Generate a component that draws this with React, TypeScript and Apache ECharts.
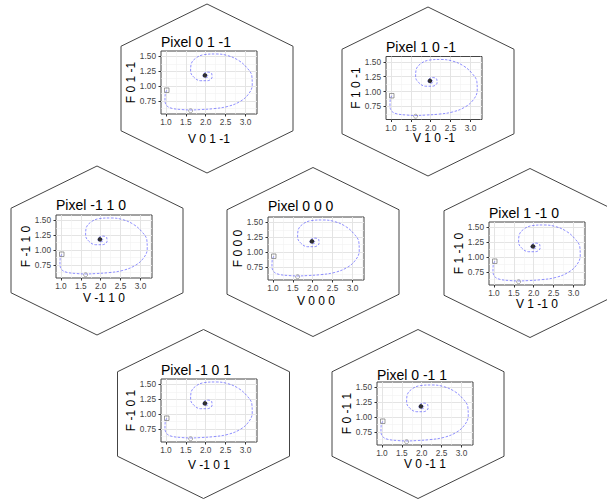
import { useEffect, useRef } from "react";
import * as echarts from "echarts";

// ---- data ----
const pixelLabels = ["0 1 -1", "1 0 -1", "-1 1 0", "0 0 0", "1 -1 0", "-1 0 1", "0 -1 1"];

const trajV = [1.02, 0.98, 0.975, 1.02, 1.15, 1.4, 1.62, 1.88, 2.2, 2.54, 2.85, 3.07, 3.17, 3.16, 3.04, 2.83, 2.54, 2.25, 1.97, 1.75, 1.63, 1.62, 1.7, 1.87, 2.04, 2.16, 2.15, 2.06, 1.96, 1.93, 1.99, 2.06, 2.03, 1.99, 1.98];
const trajF = [0.93, 0.86, 0.76, 0.67, 0.625, 0.605, 0.598, 0.605, 0.62, 0.655, 0.735, 0.86, 1.02, 1.17, 1.305, 1.43, 1.515, 1.54, 1.53, 1.47, 1.36, 1.25, 1.15, 1.09, 1.09, 1.15, 1.21, 1.235, 1.215, 1.17, 1.14, 1.16, 1.19, 1.185, 1.18];

const startPoint = [1.02, 0.93];
const turnPoint = [1.62, 0.585];
const equilibrium = [1.98, 1.18];

const xTicks = [1.0, 1.5, 2.0, 2.5, 3.0];
const xMinorTicks = [1.25, 1.75, 2.25, 2.75, 3.25];
const yTicks = [0.75, 1.0, 1.25, 1.5];
const yMinorTicks = [0.625, 0.875, 1.125, 1.375];

const xRange = [0.875, 3.29];
const yRange = [0.53, 1.59];

// ---- layout (pixels) ----
const layouts = [
  { hx: 207, hy: 88.5, left: 161, top: 51, titleY: 35, nameGap: 19 },
  { hx: 428, hy: 91.5, left: 386, top: 56.5, titleY: 40.3, nameGap: 12.5 },
  { hx: 97, hy: 250.5, left: 56, top: 215, titleY: 198, nameGap: 13.5 },
  { hx: 313, hy: 252, left: 268, top: 217, titleY: 199, nameGap: 14.5 },
  { hx: 530, hy: 253, left: 489, top: 222, titleY: 206.3, nameGap: 13 },
  { hx: 203.5, hy: 414, left: 161, top: 379, titleY: 363, nameGap: 17.3 },
  { hx: 418, hy: 414, left: 377, top: 382, titleY: 368, nameGap: 12.7 },
];
const PW = 96;
const PH = 63;
const HEX_W = 86;
const HEX_R = 84.5;

const FONT = '"Liberation Sans", Arial, sans-serif';

export default function App() {
  const ref = useRef<HTMLDivElement>(null);

  useEffect(() => {
    if (!ref.current) return;
    const chart = echarts.init(ref.current, undefined, { renderer: "svg" });

    const grids: any[] = [];
    const xAxes: any[] = [];
    const yAxes: any[] = [];
    const series: any[] = [];
    const graphics: any[] = [];

    const trajData = trajV.map((v, i) => [v, trajF[i]]);

    layouts.forEach((L, i) => {
      const label = pixelLabels[i];
      grids.push({
        left: L.left,
        top: L.top,
        width: PW,
        height: PH,
        show: true,
        backgroundColor: "#fff",
        borderColor: "#444",
        borderWidth: 1,
        containLabel: false,
      });
      // main x axis
      xAxes.push({
        type: "value",
        gridIndex: i,
        min: xRange[0],
        max: xRange[1],
        name: "V " + label,
        nameLocation: "middle",
        nameGap: L.nameGap,
        nameMoveOverlap: false,
        nameTextStyle: { fontFamily: FONT, fontSize: 12, color: "#000" },
        axisLine: { show: false },
        axisTick: { show: true, length: 2.5, lineStyle: { color: "#333", width: 1 }, customValues: xTicks },
        axisLabel: {
          show: true,
          customValues: xTicks,
          margin: 4,
          fontFamily: FONT,
          fontSize: 8.3,
          color: "#444",
          formatter: (v: number) => v.toFixed(1),
        },
        splitLine: { show: true, lineStyle: { color: "#e4e4e4", width: 1 } },
      });
      // minor x grid helper
      xAxes.push({
        type: "value",
        gridIndex: i,
        min: xRange[0],
        max: xRange[1],
        axisLine: { show: false },
        axisTick: { show: false, customValues: xMinorTicks },
        axisLabel: { show: false, customValues: xMinorTicks },
        splitLine: { show: true, lineStyle: { color: "#f1f1f1", width: 0.6 } },
      });
      yAxes.push({
        type: "value",
        gridIndex: i,
        min: yRange[0],
        max: yRange[1],
        name: "F " + label,
        nameLocation: "middle",
        nameGap: 24,
        nameMoveOverlap: false,
        nameTextStyle: { fontFamily: FONT, fontSize: 12, color: "#000" },
        axisLine: { show: false },
        axisTick: { show: true, length: 2.5, lineStyle: { color: "#333", width: 1 }, customValues: yTicks },
        axisLabel: {
          show: true,
          customValues: yTicks,
          margin: 5,
          fontFamily: FONT,
          fontSize: 8.3,
          color: "#444",
          formatter: (v: number) => v.toFixed(2),
        },
        splitLine: { show: true, lineStyle: { color: "#e4e4e4", width: 1 } },
      });
      yAxes.push({
        type: "value",
        gridIndex: i,
        min: yRange[0],
        max: yRange[1],
        axisLine: { show: false },
        axisTick: { show: false, customValues: yMinorTicks },
        axisLabel: { show: false, customValues: yMinorTicks },
        splitLine: { show: true, lineStyle: { color: "#f1f1f1", width: 0.6 } },
      });

      const xi = 2 * i;
      const yi = 2 * i;
      series.push({
        type: "line",
        xAxisIndex: xi,
        yAxisIndex: yi,
        data: trajData,
        smooth: 0.4,
        showSymbol: false,
        lineStyle: { color: "rgba(70,70,255,0.6)", width: 1, type: [2.5, 1.5] },
        z: 3,
        silent: true,
      });
      series.push({
        type: "scatter",
        xAxisIndex: xi,
        yAxisIndex: yi,
        data: [startPoint],
        symbol: "rect",
        symbolSize: 4.5,
        itemStyle: { color: "rgba(0,0,0,0)", borderColor: "#666", borderWidth: 0.8 },
        z: 4,
        silent: true,
      });
      series.push({
        type: "scatter",
        xAxisIndex: xi,
        yAxisIndex: yi,
        data: [turnPoint],
        symbol: "circle",
        symbolSize: 4,
        itemStyle: { color: "rgba(0,0,0,0)", borderColor: "#777", borderWidth: 0.8 },
        z: 4,
        silent: true,
      });
      series.push({
        type: "scatter",
        xAxisIndex: xi,
        yAxisIndex: yi,
        data: [equilibrium],
        symbol: "circle",
        symbolSize: 4.5,
        itemStyle: { color: "#000" },
        z: 5,
        silent: true,
      });

      // hexagon
      const { hx, hy } = L;
      graphics.push({
        type: "polygon",
        silent: true,
        z: -1,
        shape: {
          points: [
            [hx, hy - HEX_R],
            [hx + HEX_W, hy - HEX_R / 2],
            [hx + HEX_W, hy + HEX_R / 2],
            [hx, hy + HEX_R],
            [hx - HEX_W, hy + HEX_R / 2],
            [hx - HEX_W, hy - HEX_R / 2],
          ],
        },
        style: { fill: "none", stroke: "#444", lineWidth: 1 },
      });
      // panel title
      graphics.push({
        type: "text",
        silent: true,
        x: L.left,
        y: L.titleY,
        style: {
          text: "Pixel " + label,
          font: `14px ${FONT}`,
          fill: "#000",
        },
      });
    });

    chart.setOption({
      animation: false,
      backgroundColor: "#fff",
      grid: grids,
      xAxis: xAxes,
      yAxis: yAxes,
      series,
      graphic: { elements: graphics },
    });

    return () => chart.dispose();
  }, []);

  return (
    <div
      ref={ref}
      style={{ position: "fixed", left: 0, top: 0, width: 607, height: 501 }}
    />
  );
}
